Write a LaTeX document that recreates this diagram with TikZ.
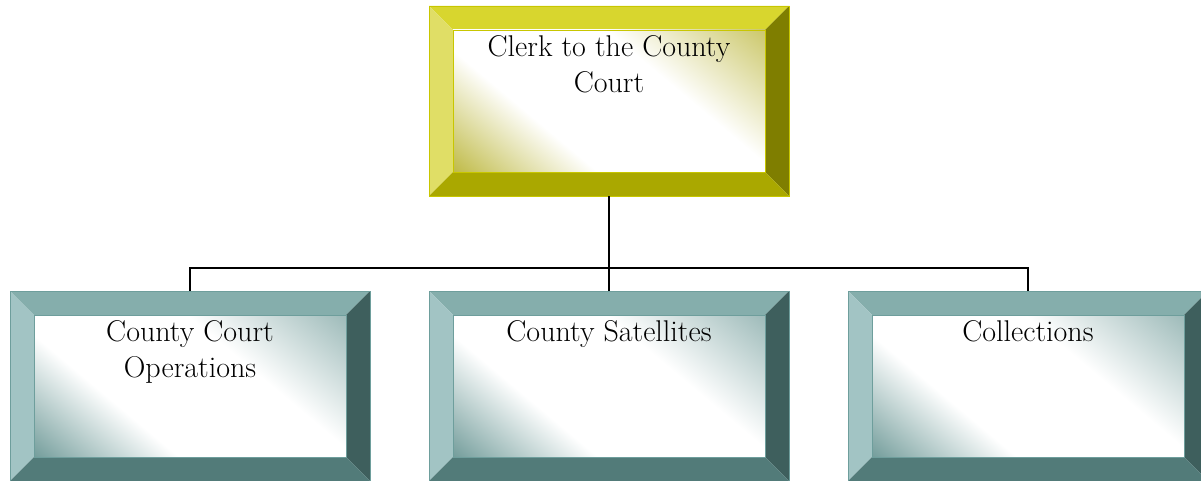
\documentclass[tikz,border=0pt]{standalone}
\usetikzlibrary{calc}

% palettes: T top bevel, L left, R right, B bottom, E edge, G glow tint
\definecolor{goldT}{HTML}{D8D62E}
\definecolor{goldL}{HTML}{E0DE66}
\definecolor{goldR}{HTML}{7F7E00}
\definecolor{goldB}{HTML}{AAA800}
\definecolor{goldE}{HTML}{C8C600}
\definecolor{goldG}{HTML}{BDB840}
\definecolor{tealT}{HTML}{85AEAC}
\definecolor{tealL}{HTML}{A2C4C4}
\definecolor{tealR}{HTML}{3E5F5D}
\definecolor{tealB}{HTML}{527B79}
\definecolor{tealE}{HTML}{6E9E9C}
\definecolor{tealG}{HTML}{6F9A98}

\pgfdeclareverticalshading{gold-glow}{100bp}{color(0bp)=(goldG); color(14bp)=(goldG); color(36bp)=(white); color(62bp)=(white); color(86bp)=(goldG!80); color(100bp)=(goldG!80)}
\pgfdeclareverticalshading{teal-glow}{100bp}{color(0bp)=(tealG); color(14bp)=(tealG); color(36bp)=(white); color(62bp)=(white); color(86bp)=(tealG!70); color(100bp)=(tealG!70)}

\tikzset{
  boxbase/.style={minimum width=360pt, minimum height=190pt, inner sep=0pt, outer sep=0pt},
  boxlabel/.style={anchor=north, align=center, inner sep=0pt, font=\fontsize{30}{36}\selectfont},
  connector/.style={draw=black, line width=1.5pt},
}

% #1 name, #2 centre, #3 palette, #4 label
\newcommand\bevelbox[4]{%
  \node[boxbase] (#1) at (#2) {};
  \coordinate (#1-nw) at ([xshift=24pt,yshift=-24pt]#1.north west);
  \coordinate (#1-ne) at ([xshift=-24pt,yshift=-24pt]#1.north east);
  \coordinate (#1-se) at ([xshift=-24pt,yshift=24pt]#1.south east);
  \coordinate (#1-sw) at ([xshift=24pt,yshift=24pt]#1.south west);
  \fill[#3T] (#1.north west) -- (#1.north east) -- (#1-ne) -- (#1-nw) -- cycle;
  \fill[#3L] (#1.north west) -- (#1-nw) -- (#1-sw) -- (#1.south west) -- cycle;
  \fill[#3R] (#1.north east) -- (#1.south east) -- (#1-se) -- (#1-ne) -- cycle;
  \fill[#3B] (#1.south west) -- (#1-sw) -- (#1-se) -- (#1.south east) -- cycle;
  \shade[shading=#3-glow, shading angle=-40] (#1-sw) rectangle (#1-ne);
  \draw[#3E, line width=0.8pt] (#1.north west) rectangle (#1.south east);
  \draw[#3E, line width=0.8pt] (#1-nw) rectangle (#1-se);
  \node[boxlabel] (#1-text) at ([yshift=-5pt]#1-nw -| #1.center) {#4};
}

\begin{document}
\begin{tikzpicture}[x=1pt, y=-1pt]
  \useasboundingbox (0,0) rectangle (1201,481);
  \clip (0,0) rectangle (1201,481);

  \bevelbox{clerk}{609,101}{gold}{Clerk to the County\\Court}
  \bevelbox{ops}{190,386}{teal}{County Court\\Operations}
  \bevelbox{sat}{609,386}{teal}{County Satellites}
  \bevelbox{coll}{1028,386}{teal}{Collections}

  % reporting lines
  \coordinate (hub) at ([yshift=-72pt]clerk.south);
  \draw[connector] (clerk.south) -- (hub) -- (sat.north);
  \draw[connector] (hub) -| (ops.north);
  \draw[connector] (hub) -| (coll.north);
\end{tikzpicture}
\end{document}
